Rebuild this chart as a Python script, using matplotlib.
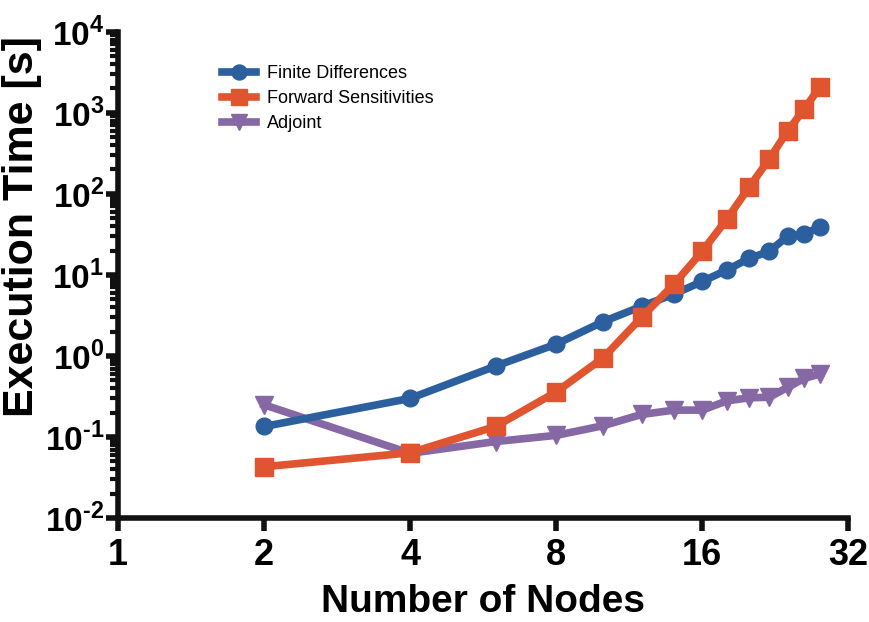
import numpy as np
import matplotlib
matplotlib.use('Agg')
from matplotlib import pyplot as plt
from matplotlib.ticker import FixedLocator, FuncFormatter, LogLocator, NullFormatter

plt.rcParams['font.family'] = ['Liberation Sans', 'DejaVu Sans']
plt.rcParams['mathtext.fontset'] = 'custom'
plt.rcParams['mathtext.rm'] = 'Liberation Sans:bold'
plt.rcParams['mathtext.bf'] = 'Liberation Sans:bold'

# данные
nodes = [2, 4, 6, 8, 10, 12, 14, 16, 18, 20, 22, 24, 26, 28]
finite_diff = [0.135, 0.30, 0.75, 1.4, 2.65, 4.1, 5.8, 8.3, 11.5, 16, 19.5, 30, 32, 39]
forward_sens = [0.043, 0.064, 0.135, 0.36, 0.95, 3.0, 7.7, 19.5, 49, 121, 268, 594, 1120, 2090]
adjoint = [0.25, 0.063, 0.088, 0.105, 0.138, 0.19, 0.215, 0.215, 0.28, 0.305, 0.31, 0.41, 0.53, 0.6]
x_ticks = [1, 2, 4, 8, 16, 32]
y_decades = [-2, -1, 0, 1, 2, 3, 4]

BLUE = '#2c5f9e'
ORANGE = '#e05530'
PURPLE = '#8668a5'

fig = plt.figure(figsize=(8.69, 6.22), dpi=100)
ax = fig.add_axes([0.136, 0.167, 0.840, 0.782])

ax.plot(nodes, finite_diff, color=BLUE, lw=5.5, marker='o', ms=12, label='Finite Differences')
ax.plot(nodes, forward_sens, color=ORANGE, lw=5.5, marker='s', ms=13, label='Forward Sensitivities')
ax.plot(nodes, adjoint, color=PURPLE, lw=5.5, marker='v', ms=13, label='Adjoint', zorder=1.9)

ax.set_xscale('log', base=2)
ax.set_yscale('log')
ax.set_xlim(1, 32)
ax.set_ylim(10.0 ** y_decades[0], 10.0 ** y_decades[-1])

ax.xaxis.set_major_locator(FixedLocator(x_ticks))
ax.xaxis.set_minor_locator(FixedLocator([]))
ax.xaxis.set_major_formatter(FuncFormatter(lambda v, p: '%d' % round(v)))
ax.yaxis.set_major_locator(FixedLocator([10.0 ** d for d in y_decades]))
ax.yaxis.set_minor_locator(LogLocator(base=10, subs=np.arange(2, 10)))
ax.yaxis.set_minor_formatter(NullFormatter())
# \text чтобы минус был дефисом, как на оригинале
ax.yaxis.set_major_formatter(FuncFormatter(lambda v, p: r'$\mathrm{10}^{\text{%d}}$' % round(np.log10(v))))

for s in ('top', 'right'):
    ax.spines[s].set_visible(False)
for s in ('left', 'bottom'):
    ax.spines[s].set_linewidth(4)
    ax.spines[s].set_color('#111111')

ax.tick_params(axis='both', which='major', length=9, width=4, color='#111111')
ax.tick_params(axis='y', which='minor', length=6, width=3, color='#111111')
ax.tick_params(axis='y', labelsize=24, pad=1)
ax.tick_params(axis='x', labelsize=26, pad=5)
for lab in ax.get_xticklabels():
    lab.set_fontweight('bold')

ax.set_xlabel('Number of Nodes', fontsize=28, fontweight='bold', labelpad=8)
ax.set_ylabel('Execution Time [s]', fontsize=31, fontweight='bold')
ax.yaxis.set_label_coords(-0.104, 0.60)

leg = ax.legend(loc='upper left', bbox_to_anchor=(0.12, 0.965), frameon=False,
                prop={'size': 13},
                handlelength=1.9, handletextpad=0.6, labelspacing=0.45, markerscale=0.9)

fig.savefig('out.png', dpi=100)
